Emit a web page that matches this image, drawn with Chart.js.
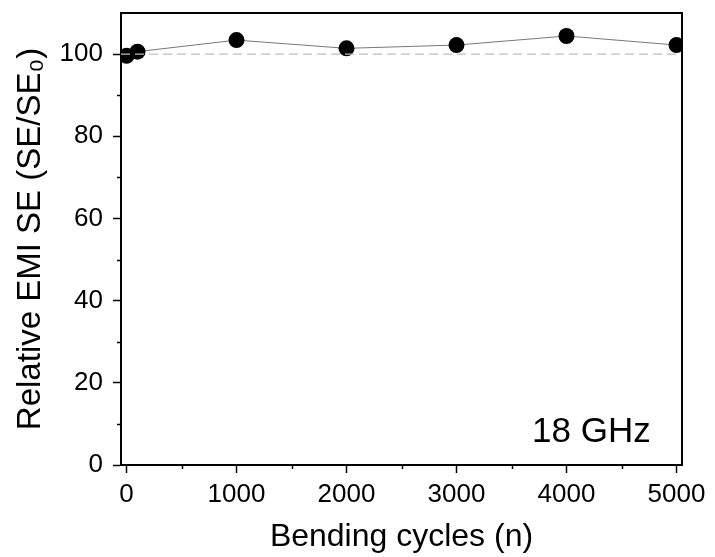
<!DOCTYPE html>
<html>
<head>
<meta charset="utf-8">
<script src="https://cdn.jsdelivr.net/npm/chart.js@4.4.1/dist/chart.umd.min.js"></script>
<style>
  html, body { margin: 0; padding: 0; background: #fff; }
  #wrap { width: 715px; height: 557px; }
</style>
</head>
<body>
<div id="wrap"><canvas id="emiChart" width="715" height="557"></canvas></div>
<script>
// Dados
const cycles = [0, 100, 1000, 2000, 3000, 4000, 5000];
const relativeSE = [99.6, 100.6, 103.4, 101.4, 102.2, 104.4, 102.2];

// Linha de referência tracejada (SE/SE0 = 100)
const refX = [-50, 5050];
const refY = [100, 100];

// Marcas dos eixos
const xTicks = [0, 1000, 2000, 3000, 4000, 5000];
const xMinorTicks = [500, 1500, 2500, 3500, 4500];
const yTicks = [0, 20, 40, 60, 80, 100];
const yMinorTicks = [10, 30, 50, 70, 90];

const fontFamily = '"Liberation Sans", Arial, Helvetica, sans-serif';

// Moldura superior/direita, marcas menores e rótulo de frequência
const framePlugin = {
    id: 'framePlugin',
    afterDraw(chart) {
        const ctx = chart.ctx;
        const area = chart.chartArea;
        const xs = chart.scales.x;
        const ys = chart.scales.y;
        ctx.save();
        ctx.strokeStyle = '#000';
        ctx.lineWidth = 2;
        ctx.beginPath();
        ctx.moveTo(area.left, area.top);
        ctx.lineTo(area.right, area.top);
        ctx.lineTo(area.right, area.bottom);
        ctx.stroke();

        ctx.lineWidth = 1.5;
        ctx.beginPath();
        xMinorTicks.forEach(v => {
            const px = Math.round(xs.getPixelForValue(v)) + 0.5;
            ctx.moveTo(px, area.bottom);
            ctx.lineTo(px, area.bottom + 4);
        });
        yMinorTicks.forEach(v => {
            const py = Math.round(ys.getPixelForValue(v)) + 0.5;
            ctx.moveTo(area.left, py);
            ctx.lineTo(area.left - 4, py);
        });
        ctx.stroke();

        ctx.fillStyle = '#000';
        ctx.font = '35px ' + fontFamily;
        ctx.textAlign = 'left';
        ctx.textBaseline = 'alphabetic';
        ctx.fillText('18 GHz', 532, 442);
        ctx.restore();
    }
};

const ctx = document.getElementById('emiChart');

new Chart(ctx, {
    type: 'line',
    data: {
        datasets: [
            {
                label: 'Referência',
                data: refX.map((x, i) => ({ x: x, y: refY[i] })),
                borderColor: '#bdbdbd',
                borderWidth: 1.2,
                borderDash: [9, 5],
                pointRadius: 0,
                fill: false
            },
            {
                label: '18 GHz',
                data: cycles.map((x, i) => ({ x: x, y: relativeSE[i] })),
                borderColor: '#777',
                borderWidth: 1,
                backgroundColor: '#000',
                pointBackgroundColor: '#000',
                pointBorderColor: '#000',
                pointRadius: 8,
                pointBorderWidth: 0,
                tension: 0,
                fill: false,
                clip: 0
            }
        ]
    },
    options: {
        responsive: false,
        animation: false,
        layout: {
            padding: { left: 0, top: 13, right: 33, bottom: 0 }
        },
        plugins: {
            legend: { display: false },
            tooltip: { enabled: false }
        },
        scales: {
            x: {
                type: 'linear',
                min: -50,
                max: 5050,
                afterBuildTicks: scale => {
                    scale.ticks = xTicks.map(v => ({ value: v }));
                },
                afterFit: scale => {
                    scale.height = 92;
                    scale.paddingLeft = 0;
                    scale.paddingRight = 0;
                },
                ticks: {
                    color: '#000',
                    padding: 6,
                    maxRotation: 0,
                    font: { family: fontFamily, size: 26 },
                    callback: v => String(v)
                },
                grid: {
                    drawOnChartArea: false,
                    drawTicks: true,
                    tickLength: 8,
                    tickWidth: 1.5,
                    tickColor: '#000'
                },
                border: { display: true, color: '#000', width: 2 },
                title: {
                    display: true,
                    text: 'Bending cycles (n)',
                    color: '#000',
                    font: { family: fontFamily, size: 32 },
                    padding: { top: 0, bottom: 1 }
                }
            },
            y: {
                type: 'linear',
                min: 0,
                max: 110,
                afterBuildTicks: scale => {
                    scale.ticks = yTicks.map(v => ({ value: v }));
                },
                afterFit: scale => {
                    scale.width = 121;
                    scale.paddingTop = 0;
                    scale.paddingBottom = 0;
                },
                ticks: {
                    color: '#000',
                    padding: 10,
                    font: { family: fontFamily, size: 26 },
                    callback: v => String(v)
                },
                grid: {
                    drawOnChartArea: false,
                    drawTicks: true,
                    tickLength: 8,
                    tickWidth: 1.5,
                    tickColor: '#000'
                },
                border: { display: true, color: '#000', width: 2 },
                title: {
                    display: true,
                    text: 'Relative EMI SE (SE/SE\u2080)',
                    color: '#000',
                    font: { family: fontFamily, size: 33 },
                    padding: { top: 11, bottom: 0 }
                }
            }
        }
    },
    plugins: [framePlugin]
});
</script>
</body>
</html>
